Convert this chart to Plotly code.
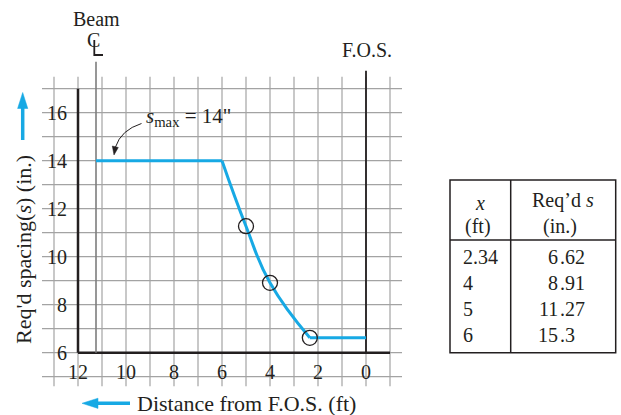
import plotly.graph_objects as go

# Required stirrup spacing vs. distance from face of support (F.O.S.)
x_ft = [2.34, 4, 5, 6]            # distance from F.O.S. (ft)
s_req = [6.62, 8.91, 11.27, 15.3]  # required spacing (in.)
s_max = 14                         # maximum spacing (in.)
x_beam_cl = 11.25                  # beam centreline, ft from F.O.S.
x_fos = 0

x_ticks = [12, 10, 8, 6, 4, 2, 0]
y_ticks = [6, 8, 10, 12, 14, 16]
x_grid = list(range(-1, 14))
y_grid = list(range(5, 18))

# ---- canvas geometry: 24 px per unit on both axes ----
W, H = 621, 415
PX = 24.0
X_ORIGIN = 366.0   # pixel column of x = 0
Y_ORIGIN = 352.7   # pixel row of s = 6
x_range = [X_ORIGIN / PX, (X_ORIGIN - W) / PX]
y_range = [6 - (H - Y_ORIGIN) / PX, 6 + Y_ORIGIN / PX]


def px(x):
    return x / W


def py(y):
    return 1 - y / H


def xd(xp):
    return (X_ORIGIN - xp) / PX


def yd(yp):
    return 6 + (Y_ORIGIN - yp) / PX


SERIF = "Liberation Serif, Times New Roman, serif"
INK = "#231f20"
BLUE = "#17a9e4"
GRID = "#a3a3a3"

fig = go.Figure()

# ---- spacing curve ----
capped = [min(s, s_max) for s in s_req]
order = sorted(range(len(x_ft)), key=lambda i: -x_ft[i])
curve_x = [x_ft[i] for i in order]
curve_s = [capped[i] for i in order]

fig.add_trace(go.Scatter(x=[x_beam_cl, curve_x[0]], y=[s_max, s_max], mode="lines",
                         line=dict(color=BLUE, width=3), hoverinfo="skip"))
fig.add_trace(go.Scatter(x=curve_x, y=curve_s, mode="lines",
                         line=dict(color=BLUE, width=3, shape="spline", smoothing=1.3),
                         hoverinfo="skip"))
fig.add_trace(go.Scatter(x=[curve_x[-1], x_fos], y=[curve_s[-1], curve_s[-1]], mode="lines",
                         line=dict(color=BLUE, width=3), hoverinfo="skip"))

# computed points (below the s_max cap)
pts = [(x, s) for x, s in zip(x_ft, s_req) if s < s_max]
fig.add_trace(go.Scatter(x=[p[0] for p in pts], y=[p[1] for p in pts], mode="markers",
                         marker=dict(symbol="circle-open", size=15, color=INK,
                                     line=dict(color=INK, width=1.3)),
                         hoverinfo="skip"))

shapes = []
# grid
for gx in x_grid:
    shapes.append(dict(type="line", xref="x", yref="y", x0=gx, x1=gx, y0=4.6, y1=17.5,
                       line=dict(color=GRID, width=1.2), layer="below"))
for gy in y_grid:
    shapes.append(dict(type="line", xref="x", yref="y", x0=13.5, x1=-1.5, y0=gy, y1=gy,
                       line=dict(color=GRID, width=1.2), layer="below"))
# axes
shapes.append(dict(type="line", xref="x", yref="y", x0=12, x1=12, y0=6, y1=17,
                   line=dict(color=INK, width=2.5), layer="below"))
shapes.append(dict(type="line", xref="x", yref="y", x0=12, x1=-1, y0=6, y1=6,
                   line=dict(color=INK, width=2.5), layer="below"))
# face of support
shapes.append(dict(type="line", xref="x", yref="y", x0=x_fos, x1=x_fos, y0=6, y1=yd(70.7),
                   line=dict(color=INK, width=1.8), layer="below"))
# beam centreline
shapes.append(dict(type="line", xref="x", yref="y", x0=x_beam_cl, x1=x_beam_cl, y0=6,
                   y1=yd(61.7), line=dict(color="#7d7d7d", width=1.6), layer="below"))


def ppath(points, close=False):
    s = " ".join(f"{'M' if i == 0 else 'L'} {px(a):.5f} {py(b):.5f}"
                 for i, (a, b) in enumerate(points))
    return s + (" Z" if close else "")


# the "L" of the centreline symbol
shapes.append(dict(type="path", xref="paper", yref="paper",
                   path=ppath([(94.3, 40), (94.3, 55), (103, 55)]),
                   line=dict(color=INK, width=1.8)))

# blue direction arrows beside the axis titles
shapes.append(dict(type="line", xref="paper", yref="paper", x0=px(22.7), x1=px(22.7),
                   y0=py(140), y1=py(106), line=dict(color=BLUE, width=3.5)))
shapes.append(dict(type="path", xref="paper", yref="paper",
                   path=ppath([(22.7, 92.5), (17.6, 108.5), (27.8, 108.5)], close=True),
                   fillcolor=BLUE, line=dict(color=BLUE, width=0.5)))
shapes.append(dict(type="line", xref="paper", yref="paper", x0=px(130), x1=px(96),
                   y0=py(403.3), y1=py(403.3), line=dict(color=BLUE, width=3.5)))
shapes.append(dict(type="path", xref="paper", yref="paper",
                   path=ppath([(82, 403.3), (98, 398.2), (98, 408.4)], close=True),
                   fillcolor=BLUE, line=dict(color=BLUE, width=0.5)))

# s_max leader (curved) with small arrowhead
shapes.append(dict(type="path", xref="paper", yref="paper",
                   path=(f"M {px(141.5):.5f} {py(123.5):.5f} "
                         f"Q {px(121):.5f} {py(130):.5f} {px(115.5):.5f} {py(147):.5f}"),
                   line=dict(color=INK, width=1)))
shapes.append(dict(type="path", xref="paper", yref="paper",
                   path=ppath([(114, 155), (112.3, 146), (118.3, 147.5)], close=True),
                   fillcolor=INK, line=dict(color=INK, width=0.5)))

# ---- table ----
TL, TR, TT, TB = 450, 615.7, 180, 352.7
COL = 510.7
HEAD = 240
tbl_line = dict(color=INK, width=1.5)
shapes.append(dict(type="rect", xref="paper", yref="paper", x0=px(TL), x1=px(TR),
                   y0=py(TB), y1=py(TT), line=tbl_line))
shapes.append(dict(type="line", xref="paper", yref="paper", x0=px(COL), x1=px(COL),
                   y0=py(TB), y1=py(TT), line=tbl_line))
shapes.append(dict(type="line", xref="paper", yref="paper", x0=px(TL), x1=px(TR),
                   y0=py(HEAD), y1=py(HEAD), line=tbl_line))

ann = []


def text(t, x, y, size=20, xanchor="center", yanchor="middle", **kw):
    ann.append(dict(text=t, x=px(x), y=py(y), xref="paper", yref="paper",
                    xanchor=xanchor, yanchor=yanchor, showarrow=False,
                    font=dict(family=SERIF, size=size, color=INK), **kw))


# tick labels
for t in x_ticks:
    ann.append(dict(text=str(t), x=t, y=yd(372), xref="x", yref="y", showarrow=False,
                    xanchor="center", yanchor="middle",
                    font=dict(family=SERIF, size=20, color=INK)))
for t in y_ticks:
    ann.append(dict(text=str(t), x=xd(69), y=t, xref="x", yref="y", showarrow=False,
                    xanchor="right", yanchor="middle",
                    font=dict(family=SERIF, size=20, color=INK)))

# labels above the chart
text("Beam", 96.5, 19, size=20)
text("C", 93, 40, size=20)
text("F.O.S.", 366.5, 50, size=20)

# s_max callout
text(f"<i>s</i><sub>max</sub> = {s_max}\"", 144, 117, size=21, xanchor="left")

# axis titles
text("Req'd spacing(<i>s</i>) (in.)", 23, 250, size=22, textangle=-90)
text("Distance from F.O.S. (ft)", 135, 403, size=22, xanchor="left")

# table text
text("<i>x</i>", 480, 203)
text("(ft)", 478, 226)
text("Req’d <i>s</i>", 563, 200)
text("(in.)", 560, 226)
DEC = 559
for i, (x, s) in enumerate(zip(x_ft, s_req)):
    yrow = 257.3 + 26 * i
    text(str(x), 461, yrow, xanchor="left")
    whole, frac = str(s).split(".")
    text(whole, DEC + 1, yrow, xanchor="right")
    text("." + frac, DEC - 1, yrow, xanchor="left")

axis_common = dict(showgrid=False, zeroline=False, showline=False, showticklabels=False,
                   ticks="", fixedrange=True)
fig.update_layout(
    width=W, height=H, margin=dict(l=0, r=0, t=0, b=0), autosize=False,
    paper_bgcolor="white", plot_bgcolor="white", showlegend=False,
    xaxis=dict(range=x_range, **axis_common),
    yaxis=dict(range=y_range, **axis_common),
    shapes=shapes, annotations=ann,
)

fig.write_html("out.html", config={"displayModeBar": False})
